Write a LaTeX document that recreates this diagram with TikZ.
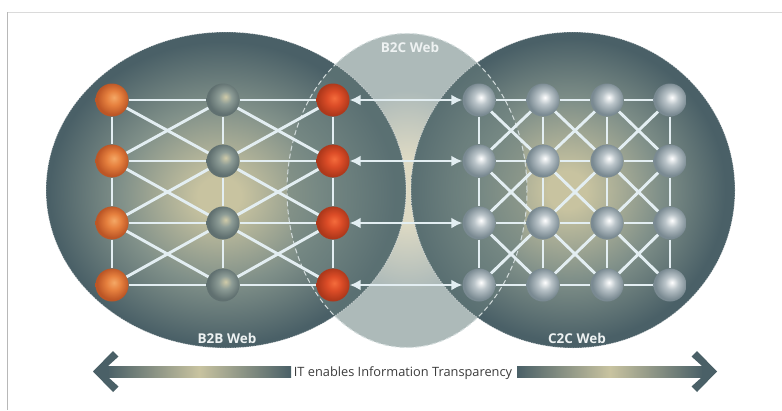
\documentclass[tikz,border=0pt]{standalone}
\usepackage{fontspec}
\setmainfont{Open Sans}
\usetikzlibrary{arrows.meta}

\definecolor{slate}{HTML}{4A6067}
\definecolor{webbeige}{HTML}{C8C3A0}
\definecolor{webmid}{HTML}{809089}
\definecolor{linecol}{HTML}{E3EEF2}
\definecolor{b2cout}{HTML}{ADBAB9}
\definecolor{b2cin}{HTML}{DEDAC4}
\definecolor{tint}{HTML}{6B807E}
\definecolor{frametop}{HTML}{DADADA}
\definecolor{frameleft}{HTML}{B8B8B8}
\definecolor{labelcol}{HTML}{EEF2F2}
\definecolor{textcol}{HTML}{3C3C3C}
\definecolor{dashcol}{HTML}{D3DCDC}
% balls
\definecolor{oHi}{HTML}{F4A866}\definecolor{oMid}{HTML}{E6803E}\definecolor{oEdge}{HTML}{BC5626}
\definecolor{rHi}{HTML}{F46C3C}\definecolor{rMid}{HTML}{DC4C27}\definecolor{rEdge}{HTML}{AE381B}
\definecolor{gHi}{HTML}{D0CBA9}\definecolor{gMid}{HTML}{8D9C96}\definecolor{gEdge}{HTML}{607070}
\definecolor{sHi}{HTML}{FFFFFF}\definecolor{sMid}{HTML}{BAC4C9}\definecolor{sEdge}{HTML}{7A8A92}

\pgfdeclareradialshading{webB}{\pgfpoint{-1bp}{-1bp}}{color(0bp)=(webbeige); color(3bp)=(webbeige); color(14bp)=(webmid); color(24bp)=(slate); color(50bp)=(slate)}
\pgfdeclareradialshading{webC}{\pgfpoint{-1bp}{0bp}}{color(0bp)=(webbeige); color(3bp)=(webbeige); color(14bp)=(webmid); color(24bp)=(slate); color(50bp)=(slate)}
\pgfdeclareradialshading{webM}{\pgfpoint{0bp}{0bp}}{color(0bp)=(b2cin); color(5bp)=(b2cin); color(16bp)=(b2cout); color(50bp)=(b2cout)}
\pgfdeclareradialshading{ballO}{\pgfpoint{3bp}{4bp}}{color(0bp)=(oHi); color(11bp)=(oMid); color(24bp)=(oEdge); color(50bp)=(oEdge)}
\pgfdeclareradialshading{ballR}{\pgfpoint{2bp}{3bp}}{color(0bp)=(rHi); color(11bp)=(rMid); color(24bp)=(rEdge); color(50bp)=(rEdge)}
\pgfdeclareradialshading{ballG}{\pgfpoint{4bp}{5bp}}{color(0bp)=(gHi); color(10bp)=(gMid); color(24bp)=(gEdge); color(50bp)=(gEdge)}
\pgfdeclareradialshading{ballS}{\pgfpoint{3bp}{4bp}}{color(0bp)=(sHi); color(10bp)=(sMid); color(24bp)=(sEdge); color(50bp)=(sEdge)}
\pgfdeclarehorizontalshading{shaft}{100bp}{color(0bp)=(slate); color(25bp)=(slate); color(50bp)=(webbeige); color(75bp)=(slate); color(100bp)=(slate)}

\tikzset{
  ballbase/.style={circle, minimum size=33pt, inner sep=0pt, shade},
  orangeball/.style={ballbase, shading=ballO},
  redball/.style={ballbase, shading=ballR},
  grayball/.style={ballbase, shading=ballG},
  silverball/.style={ballbase, shading=ballS},
  webline/.style={draw=linecol, line width=2.9pt},
  link/.style={webline, {Latex[length=11pt,width=11pt]}-{Latex[length=11pt,width=11pt]}},
  weblabel/.style={text=labelcol, anchor=base, inner sep=0pt, font=\bfseries\fontsize{13.5}{16}\selectfont},
  rimline/.style={draw=white, draw opacity=0.55, line width=0.8pt, dash pattern=on 1.5pt off 1pt},
  b2crim/.style={draw=dashcol, line width=1pt, dash pattern=on 5pt off 3pt},
  headfill/.style={fill=slate},
}

\begin{document}
\begin{tikzpicture}[x=1pt, y=-1pt]
\useasboundingbox (0,0) rectangle (782,410);
\fill[white] (0,0) rectangle (782,410);
\draw[frametop, line width=1pt] (7,12) -- (782,12);
\draw[frameleft, line width=1pt] (7,12) -- (7,410);

% webs
\shade[shading=webM] (407,190.5) ellipse [x radius=120pt, y radius=157pt];
\shade[shading=webB] (226,190) ellipse [x radius=180pt, y radius=158pt];
\shade[shading=webC] (573,190) ellipse [x radius=162pt, y radius=158pt];
\begin{scope}
  \clip (407,190.5) ellipse [x radius=120pt, y radius=157pt];
  \fill[tint, fill opacity=0.5] (226,190) ellipse [x radius=180pt, y radius=158pt];
  \fill[tint, fill opacity=0.5] (573,190) ellipse [x radius=162pt, y radius=158pt];
\end{scope}
\draw[rimline] (226,190) ellipse [x radius=180pt, y radius=158pt];
\draw[rimline] (573,190) ellipse [x radius=162pt, y radius=158pt];
\draw[b2crim] (407,190.5) ellipse [x radius=120pt, y radius=157pt];

\node[weblabel] (lb2c) at (410,52.5) {B2C Web};
\node[weblabel] (lb2b) at (227,343) {B2B Web};
\node[weblabel] (lc2c) at (577,343) {C2C Web};

% nodes
\foreach \r/\y in {1/100,2/161,3/223,4/285} {
  \node[orangeball] (b1\r) at (112,\y) {};
  \node[grayball] (b2\r) at (223,\y) {};
  \node[redball] (b3\r) at (333,\y) {};
  \foreach \c/\x in {1/479,2/543,3/607,4/670}
    \node[silverball] (c\c\r) at (\x,\y) {};
}

% B2B web
\foreach \r in {1,...,4} {
  \draw[webline] (b1\r) -- (b2\r);
  \draw[webline] (b2\r) -- (b3\r);
}
\foreach \c in {1,2,3}
  \foreach \r/\s in {1/2,2/3,3/4}
    \draw[webline] (b\c\r) -- (b\c\s);
\foreach \c/\d in {1/2,2/3}
  \foreach \r/\s in {1/2,2/3,3/4} {
    \draw[webline] (b\c\r) -- (b\d\s);
    \draw[webline] (b\c\s) -- (b\d\r);
  }

% C2C web
\foreach \r in {1,...,4}
  \foreach \c/\d in {1/2,2/3,3/4}
    \draw[webline] (c\c\r) -- (c\d\r);
\foreach \c in {1,...,4}
  \foreach \r/\s in {1/2,2/3,3/4}
    \draw[webline] (c\c\r) -- (c\c\s);
\foreach \c/\d in {1/2,2/3,3/4}
  \foreach \r/\s in {1/2,2/3,3/4} {
    \draw[webline] (c\c\r) -- (c\d\s);
    \draw[webline] (c\c\s) -- (c\d\r);
  }

% B2C links
\foreach \r in {1,...,4}
  \draw[link] (b3\r) -- (c1\r);

% bottom arrow
\node[anchor=base, inner sep=0pt, text=textcol, font=\fontsize{12.8}{15}\selectfont] (it) at (403,376) {IT enables Information Transparency};
\shade[shading=shaft] (107,366) rectangle (291,377);
\shade[shading=shaft] (517,366) rectangle (703,377);
\fill[headfill] (93,371.5) -- (113,351) -- (118.5,356.5) -- (108,366) -- (108,377) -- (118.5,386.5) -- (113,392) -- cycle;
\fill[headfill] (717,371.5) -- (697,351) -- (691.5,356.5) -- (702,366) -- (702,377) -- (691.5,386.5) -- (697,392) -- cycle;
\end{tikzpicture}
\end{document}
